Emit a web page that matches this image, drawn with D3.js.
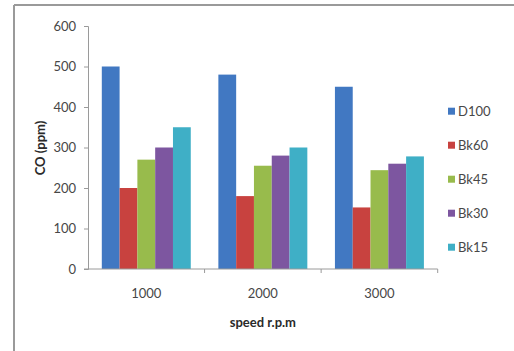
<!DOCTYPE html>
<html>
<head>
<meta charset="utf-8">
<script src="https://cdn.jsdelivr.net/npm/d3@7"></script>
<style>
  html, body { margin: 0; padding: 0; background: #fff; }
  svg { display: block; font-family: Lato, "Open Sans", sans-serif; }
</style>
</head>
<body>
<svg id="chart" width="514" height="351"></svg>
<script>
// CO emissions by engine speed for each fuel blend
const speeds = ["1000", "2000", "3000"];
const seriesNames = ["D100", "Bk60", "Bk45", "Bk30", "Bk15"];
const seriesColors = ["#4178c2", "#c8423f", "#98bb4c", "#7d56a0", "#3fafc6"];
const D100 = [500, 480, 450];
const Bk60 = [200, 180, 152];
const Bk45 = [270, 255, 244];
const Bk30 = [300, 280, 260];
const Bk15 = [350, 300, 278];
const yTicks = [0, 100, 200, 300, 400, 500, 600];
const seriesValues = [D100, Bk60, Bk45, Bk30, Bk15];

const svg = d3.select("#chart");

// outer frame (left and top edges)
svg.append("line").attr("x1", 14).attr("x2", 14).attr("y1", 5).attr("y2", 351)
  .attr("stroke", "#9a9a9a").attr("stroke-width", 2);
svg.append("line").attr("x1", 14).attr("x2", 514).attr("y1", 5).attr("y2", 5)
  .attr("stroke", "#9a9a9a").attr("stroke-width", 2);

const plot = { left: 88, right: 437.7, top: 26, bottom: 269 };

const y = d3.scaleLinear().domain([0, 600]).range([plot.bottom, plot.top]);
const x0 = d3.scaleBand().domain(speeds).range([plot.left, plot.right]).padding(0);
const x1 = d3.scaleBand().domain(seriesNames)
  .range([13.8, x0.bandwidth() - 13.8]).padding(0);

// bars
const groups = svg.append("g").selectAll("g")
  .data(speeds)
  .join("g")
  .attr("transform", d => `translate(${x0(d)},0)`);

groups.selectAll("rect")
  .data((d, i) => seriesNames.map((s, k) => ({ s, k, v: seriesValues[k][i] })))
  .join("rect")
  .attr("x", d => x1(d.s))
  .attr("width", x1.bandwidth())
  .attr("y", d => y(d.v))
  .attr("height", d => y(0) - y(d.v))
  .attr("fill", d => seriesColors[d.k]);

// y axis
const yAxis = svg.append("g")
  .attr("transform", `translate(${plot.left},0)`)
  .call(d3.axisLeft(y).tickValues(yTicks).tickSize(4).tickPadding(8));
yAxis.select(".domain").attr("stroke", "#9a9a9a");
yAxis.selectAll(".tick line").attr("stroke", "#9a9a9a");
yAxis.selectAll(".tick text").attr("fill", "#474747")
  .style("font-size", "13px").style("font-family", "Lato, sans-serif");

// x axis with ticks at category boundaries
const xAxisG = svg.append("g").attr("transform", `translate(0,${plot.bottom})`);
xAxisG.append("line").attr("x1", plot.left - 4).attr("x2", plot.right)
  .attr("stroke", "#9a9a9a");
xAxisG.selectAll("line.tk")
  .data(speeds)
  .join("line")
  .attr("class", "tk")
  .attr("x1", d => x0(d) + x0.bandwidth()).attr("x2", d => x0(d) + x0.bandwidth())
  .attr("y1", 0).attr("y2", 4)
  .attr("stroke", "#9a9a9a");
xAxisG.selectAll("text")
  .data(speeds)
  .join("text")
  .attr("x", d => x0(d) + x0.bandwidth() / 2)
  .attr("y", 29)
  .attr("text-anchor", "middle")
  .attr("fill", "#474747")
  .style("font-size", "13px")
  .text(d => d);

// axis titles
svg.append("text")
  .attr("x", (plot.left + plot.right) / 2 + 0).attr("y", 327)
  .attr("text-anchor", "middle")
  .attr("fill", "#2a2a2a")
  .style("font-size", "13px").style("font-weight", "bold")
  .text("speed r.p.m");

svg.append("text")
  .attr("transform", "translate(45,148) rotate(-90)")
  .attr("text-anchor", "middle")
  .attr("fill", "#2a2a2a")
  .style("font-size", "13px").style("font-weight", "bold")
  .text("CO (ppm)");

// legend
const legend = svg.append("g").selectAll("g")
  .data(seriesNames)
  .join("g")
  .attr("transform", (d, i) => `translate(448,${111.7 + i * 34})`);
legend.append("rect")
  .attr("x", 0).attr("y", -4).attr("width", 7).attr("height", 7)
  .attr("fill", (d, i) => seriesColors[i]);
legend.append("text")
  .attr("x", 10).attr("y", 0).attr("dy", "0.35em")
  .attr("fill", "#474747")
  .style("font-size", "13px")
  .text(d => d);
</script>
</body>
</html>
